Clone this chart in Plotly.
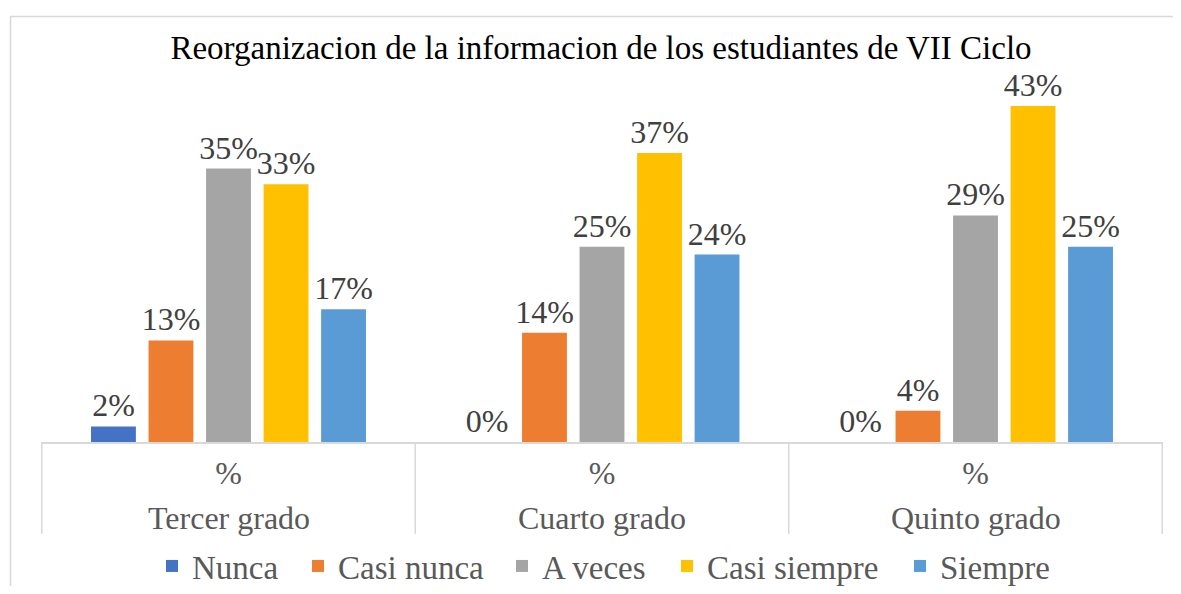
import plotly.graph_objects as go

grades = ["Tercer grado", "Cuarto grado", "Quinto grado"]
inner = ["%", "%", "%"]
series_names = ["Nunca", "Casi nunca", "A veces", "Casi siempre", "Siempre"]
nunca = [0.02, 0.00, 0.00]
casi_nunca = [0.13, 0.14, 0.04]
a_veces = [0.35, 0.25, 0.29]
casi_siempre = [0.33, 0.37, 0.43]
siempre = [0.17, 0.24, 0.25]
colors = ["#4472C4", "#ED7D31", "#A5A5A5", "#FFC000", "#5B9BD5"]

series_values = [nunca, casi_nunca, a_veces, casi_siempre, siempre]

FONT = "Liberation Serif"
OFF = 8  # page body margin
W, H = 1181 - 2 * OFF, 594 - 2 * OFF
ML = 41 - OFF
MR = W - (1163 - OFF)
MT = 67 - OFF
MB = H - (442 - OFF)

def fx(x):  # page px -> paper
    return (x - OFF - ML) / (W - ML - MR)
def fy(y):
    return (H - MB - (y - OFF)) / (H - MT - MB)

legend_ids = ["legend", "legend2", "legend3", "legend4", "legend5"]
legend_text_x = [192, 338, 542, 707, 940]  # page px where each legend label starts

fig = go.Figure()
for name, vals, col, lid in zip(series_names, series_values, colors, legend_ids):
    fig.add_trace(go.Bar(
        name=name,
        x=grades,
        y=vals,
        legend=lid,
        marker=dict(color=col, line=dict(width=0)),
        text=[f"{round(v*100)}%" for v in vals],
        textposition="outside",
        constraintext="none",
        cliponaxis=False,
        textfont=dict(family=FONT, size=32, color="#404040"),
    ))

annotations = [dict(text=g, x=g, xref="x", y=fy(518), yref="paper",
                    xanchor="center", yanchor="middle", showarrow=False,
                    font=dict(family=FONT, size=32, color="#595959"))
               for g in grades]

divider_pos = [-0.5, 0.5, 1.5, 2.5]
shapes = [dict(type="line", xref="x", yref="paper", x0=p, x1=p, y0=0, y1=fy(534),
               line=dict(color="#D9D9D9", width=1.5)) for p in divider_pos]
shapes.append(dict(type="rect", xref="paper", yref="paper",
                   x0=fx(10.5), x1=fx(1200), y0=fy(620), y1=fy(16.5),
                   line=dict(color="#D9D9D9", width=1.5), fillcolor="rgba(0,0,0,0)",
                   layer="below"))

legend_layout = {}
for lid, tx in zip(legend_ids, legend_text_x):
    legend_layout[lid] = dict(
        orientation="h", x=fx(tx - 40), xanchor="left",
        y=fy(566), yanchor="middle",
        font=dict(family=FONT, size=33, color="#595959"),
        bgcolor="rgba(0,0,0,0)", borderwidth=0, itemwidth=30,
    )

fig.update_layout(
    width=W, height=H,
    margin=dict(l=ML, r=MR, t=MT, b=MB, autoexpand=False),
    paper_bgcolor="white", plot_bgcolor="white",
    barmode="group", bargap=0.23, bargroupgap=0.22,
    title=dict(text="Reorganizacion de la informacion de los estudiantes de VII Ciclo",
               x=fx(601), xanchor="center", xref="paper",
               y=1 - (47 - OFF) / H, yanchor="middle",
               font=dict(family=FONT, size=33, color="#000000")),
    xaxis=dict(type="category", showline=True, linecolor="#D9D9D9", linewidth=1.5,
               tickvals=grades, ticktext=inner,
               ticks="", ticklabelstandoff=2, automargin=False,
               tickfont=dict(family=FONT, size=32, color="#595959"),
               showgrid=False),
    yaxis=dict(range=[0, 0.48], visible=False, showgrid=False, zeroline=False),
    showlegend=True,
    annotations=annotations,
    shapes=shapes,
    **legend_layout,
)

fig.write_html("out.html")
